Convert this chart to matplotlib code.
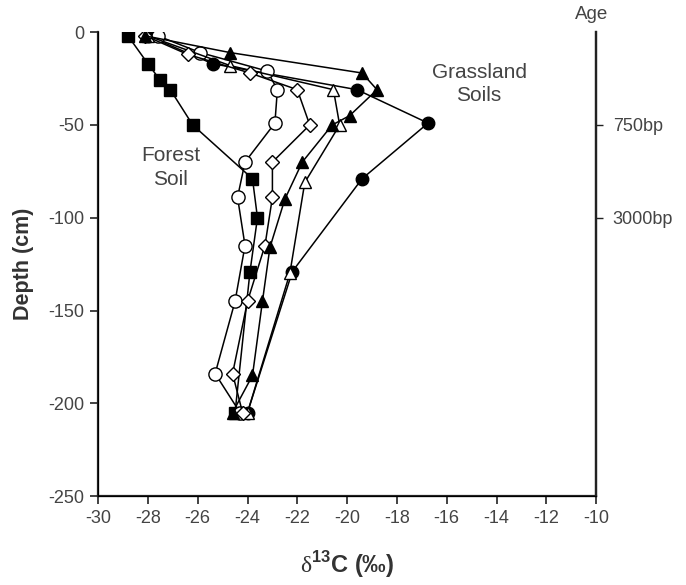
import matplotlib
matplotlib.use("Agg")
import matplotlib.pyplot as plt

plt.rcParams['font.family'] = ['Liberation Sans', 'DejaVu Sans']
plt.rcParams['mathtext.fontset'] = 'custom'
plt.rcParams['mathtext.rm'] = 'Liberation Serif'
plt.rcParams['mathtext.bf'] = 'Liberation Sans:bold'
plt.rcParams['axes.unicode_minus'] = False

# forest soil (filled squares)
sq_x = [-28.8, -28.0, -27.5, -27.1, -26.2, -23.8, -23.6, -23.9, -24.5]
sq_y = [-2, -17, -26, -31, -50, -79, -100, -129, -205]

# open circles
oc_x = [-27.6, -25.9, -23.2, -22.8, -22.9, -24.1, -24.4, -24.1, -24.5, -25.3, -24.3]
oc_y = [-2, -11, -21, -31, -49, -70, -89, -115, -145, -184, -205]

# open diamonds
di_x = [-28.1, -26.4, -23.9, -22.0, -21.5, -23.0, -23.0, -23.3, -24.0, -24.6, -24.2]
di_y = [-2, -12, -22, -31, -50, -70, -89, -115, -145, -184, -205]

# filled triangles
ft_x = [-28.1, -24.7, -19.4, -18.8, -19.9, -20.6, -21.8, -22.5, -23.1, -23.4, -23.8, -24.6]
ft_y = [-2, -11, -22, -31, -45, -50, -70, -90, -116, -145, -185, -205]

# open triangles
ot_x = [-28.0, -24.7, -20.55, -20.3, -21.7, -22.3, -24.0]
ot_y = [-2, -18, -31, -50, -81, -130, -205]

# filled circles
fc_x = [-28.0, -25.4, -19.6, -16.75, -19.4, -22.2, -24.0]
fc_y = [-2, -17, -31, -49, -79, -129, -205]

age_depth = [-50, -100]
age_labels = ['750bp', '3000bp']

fig = plt.figure(figsize=(6.86, 5.85), dpi=100)
ax = fig.add_axes([0.143, 0.152, 0.726, 0.793])

lw = 1.1
ax.plot(fc_x, fc_y, '-o', color='black', lw=lw, ms=9, mfc='black', mec='black', zorder=3)
ax.plot(sq_x, sq_y, '-s', color='black', lw=lw, ms=8.5, mfc='black', mec='black', zorder=3.5)
ax.plot(oc_x, oc_y, '-o', color='black', lw=lw, ms=9.5, mfc='white', mec='black', zorder=4)
ax.plot(ot_x, ot_y, '-^', color='black', lw=lw, ms=9, mfc='white', mec='black', zorder=5)
ax.plot(di_x, di_y, '-D', color='black', lw=lw, ms=7.3, mfc='white', mec='black', zorder=5.5)
ax.plot(ft_x, ft_y, '-^', color='black', lw=lw, ms=9, mfc='black', mec='black', zorder=6)

ax.set_xlim(-30, -10)
ax.set_ylim(-250, 0)
ax.set_xticks(range(-30, -9, 2))
ax.set_yticks(range(-250, 1, 50))

ax.spines['top'].set_visible(False)
for s in ['left', 'bottom', 'right']:
    ax.spines[s].set_linewidth(1.6)
    ax.spines[s].set_color('#222222')
ax.tick_params(direction='out', length=6, width=1.2, labelsize=13,
               labelcolor='#444444', color='#222222', pad=4)

ax.set_xlabel(r'$\mathrm{\delta}^{\mathbf{13}}$C (‰)', fontsize=17, fontweight='bold',
              color='#333333', labelpad=16)
ax.set_ylabel('Depth (cm)', fontsize=15.5, fontweight='bold', color='#333333', labelpad=10)

ax2 = ax.twinx()
ax2.set_ylim(ax.get_ylim())
ax2.set_yticks(age_depth)
ax2.set_yticklabels(age_labels)
ax2.spines['top'].set_visible(False)
ax2.spines['right'].set_linewidth(1.6)
ax2.spines['right'].set_color('#222222')
ax2.tick_params(direction='out', length=5, width=1.0, labelsize=13,
                labelcolor='#444444', color='#222222', pad=7)

ax.text(-14.7, -28, 'Grassland\nSoils', fontsize=15, color='#444444',
        ha='center', va='center', linespacing=1.3)
ax.text(-27.1, -73, 'Forest\nSoil', fontsize=15, color='#444444',
        ha='center', va='center', linespacing=1.3)
fig.text(0.862, 0.975, 'Age', fontsize=13.5, color='#444444', ha='center', va='center')

fig.savefig('out.png', dpi=100)
